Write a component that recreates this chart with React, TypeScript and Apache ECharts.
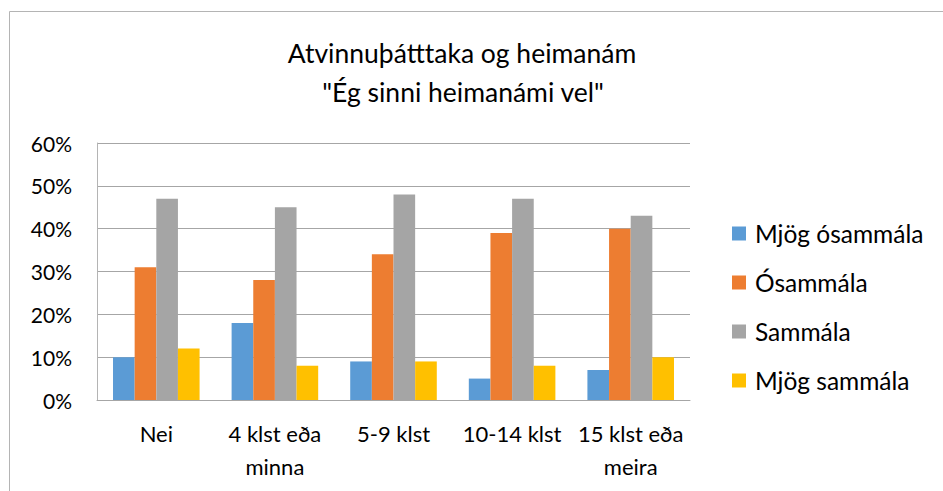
import React, { useEffect, useRef } from "react";
import * as echarts from "echarts";

const categories = ["Nei", "4 klst eða\nminna", "5-9 klst", "10-14 klst", "15 klst eða\nmeira"];
const seriesNames = ["Mjög ósammála", "Ósammála", "Sammála", "Mjög sammála"];
const mjogOsammala = [10, 18, 9, 5, 7];
const osammala = [31, 28, 34, 39, 40];
const sammala = [47, 45, 48, 47, 43];
const mjogSammala = [12, 8, 9, 8, 10];
const colors = ["#5B9BD5", "#ED7D31", "#A5A5A5", "#FFC000"];
const titleLine1 = "Atvinnuþátttaka og heimanám";
const titleLine2 = "\"Ég sinni heimanámi vel\"";

const FONT = "Lato, 'Open Sans', sans-serif";

export default function App() {
  const ref = useRef<HTMLDivElement>(null);
  useEffect(() => {
    if (!ref.current) return;
    const chart = echarts.init(ref.current, null, { renderer: "svg" });
    const values = [mjogOsammala, osammala, sammala, mjogSammala];
    chart.setOption({
      animation: false,
      backgroundColor: "#ffffff",
      textStyle: { fontFamily: FONT },
      graphic: [
        {
          type: "rect",
          shape: { x: 9.5, y: 11.5, width: 1000, height: 1000 },
          style: { fill: "none", stroke: "#B4B4B4", lineWidth: 1 },
          silent: true,
        },
        {
          type: "text",
          x: 462,
          y: 52.5,
          style: {
            text: titleLine1,
            fontFamily: FONT,
            fontSize: 26.5,
            fill: "#000000",
            textAlign: "center",
            textVerticalAlign: "middle",
          },
        },
        {
          type: "text",
          x: 463,
          y: 92,
          style: {
            text: titleLine2,
            fontFamily: FONT,
            fontSize: 26.5,
            fill: "#000000",
            textAlign: "center",
            textVerticalAlign: "middle",
          },
        },
      ],
      legend: {
        orient: "vertical",
        left: 732,
        top: 221,
        padding: 0,
        itemWidth: 14,
        itemHeight: 14,
        itemGap: 24,
        icon: "rect",
        textStyle: { fontFamily: FONT, fontSize: 24.5, color: "#000", lineHeight: 24, padding: [0, 0, 0, 4] },
        data: seriesNames,
      },
      grid: { left: 97, top: 143, width: 593, height: 257, containLabel: false },
      xAxis: {
        type: "category",
        data: categories,
        axisLine: { show: true, lineStyle: { color: "#A6A6A6", width: 1 } },
        axisTick: { show: false },
        axisLabel: {
          interval: 0,
          fontFamily: FONT,
          fontSize: 22,
          color: "#000",
          lineHeight: 33,
          margin: 17,
        },
      },
      yAxis: {
        type: "value",
        min: 0,
        max: 60,
        interval: 10,
        axisLine: { show: true, lineStyle: { color: "#B4B4B4", width: 1 } },
        axisTick: { show: false },
        splitLine: { show: true, lineStyle: { color: "#A6A6A6", width: 1 } },
        axisLabel: {
          formatter: "{value}%",
          fontFamily: FONT,
          fontSize: 21,
          color: "#000",
          margin: 25,
        },
      },
      series: seriesNames.map((name, i) => ({
        name,
        type: "bar",
        data: values[i],
        barGap: "0%",
        barCategoryGap: "27%",
        itemStyle: { color: colors[i] },
      })),
    });
    return () => chart.dispose();
  }, []);
  return (
    <div
      ref={ref}
      style={{ position: "fixed", left: 0, top: 0, width: 943, height: 491 }}
    />
  );
}
